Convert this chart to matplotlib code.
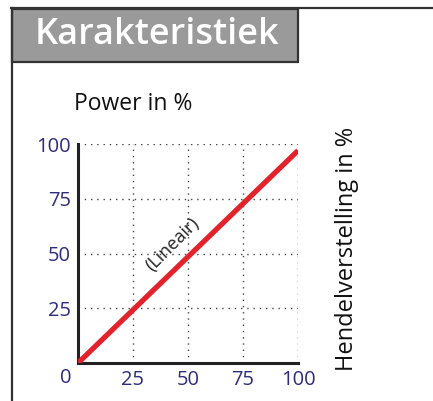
import matplotlib.pyplot as plt
from matplotlib.patches import Rectangle
from matplotlib.lines import Line2D

# data
hendel = [0, 100]
power = [0, 97]
ticks = [25, 50, 75, 100]
tick_labels = ['25', '50', '75', '100']

plt.rcParams['font.family'] = ['Open Sans', 'DejaVu Sans']
navy = '#2e2c7c'

fig = plt.figure(figsize=(4.33, 4.01), dpi=100)
W, H = 433, 401

# frame lines and title box
fig.add_artist(Line2D([11 / W, 1], [1 - 8 / H, 1 - 8 / H], color='#333333', lw=1.6))
fig.add_artist(Line2D([12 / W, 12 / W], [0, 1 - 8 / H], color='#333333', lw=1.6))
fig.add_artist(Rectangle((12 / W, 1 - 62 / H), 286 / W, 53 / H,
                         facecolor='#9a9a9a', edgecolor='#333333', lw=1.6))
fig.text(157 / W, 1 - 35 / H, 'Karakteristiek', color='white', fontsize=26,
         fontweight='semibold', ha='center', va='center')

ax = fig.add_axes([78 / W, 1 - 363 / H, 220 / W, 219 / H])
ax.plot(hendel, power, color='#e3232b', lw=3.8, solid_capstyle='butt', zorder=3)
ax.set_xlim(0, 100)
ax.set_ylim(0, 100)
ax.set_xticks(ticks)
ax.set_xticklabels(tick_labels)
ax.set_yticks(ticks)
ax.set_yticklabels(tick_labels)
ax.tick_params(length=0, labelsize=14.5, labelcolor=navy, pad=5)
ax.grid(True, linestyle=(0, (1, 3.5)), color='#444444', lw=1.0)
for s in ['top', 'right']:
    ax.spines[s].set_visible(False)
for s in ['left', 'bottom']:
    ax.spines[s].set_linewidth(2.2)
    ax.spines[s].set_color('#222222')
ax.text(-3, -2.5, '0', transform=ax.transData, ha='right', va='top',
        color=navy, fontsize=14.5, clip_on=False)

ax.text(43, 54, '(Lineair)', rotation=45, ha='center', va='center',
        fontsize=13, color='#222222')

fig.text(133 / W, 1 - 104 / H, 'Power in %', ha='center', va='center',
         fontsize=16.5, color='#111111')
fig.text(347 / W, 1 - 249 / H, 'Hendelverstelling in %', ha='center', va='center',
         rotation=90, fontsize=17, color='#111111')

fig.savefig('out.png', dpi=100)
